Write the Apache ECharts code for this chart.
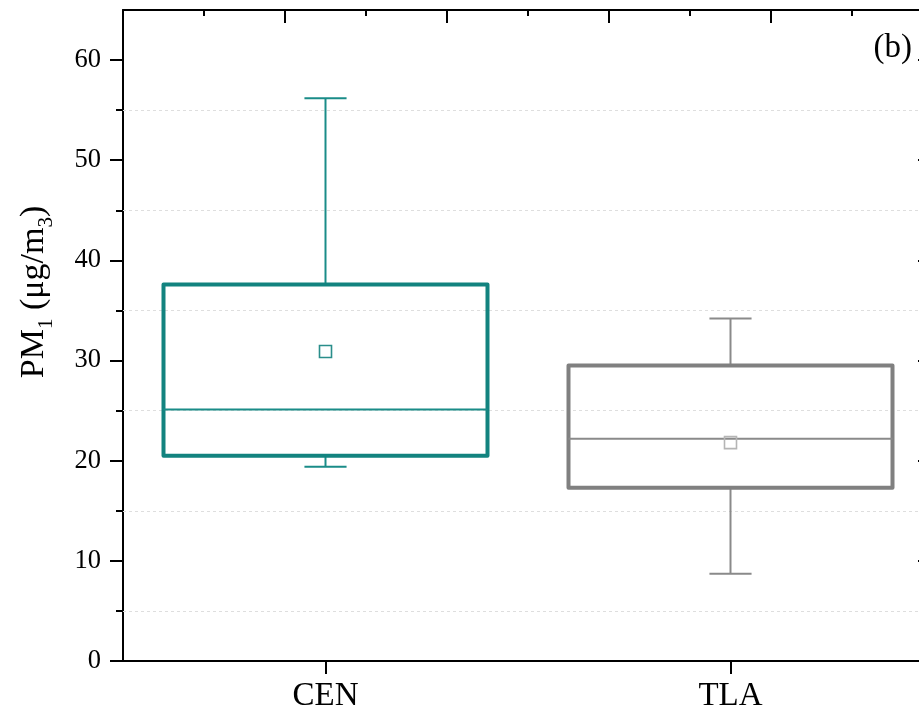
<!DOCTYPE html>
<html>
<head>
<meta charset="utf-8">
<script src="https://cdn.jsdelivr.net/npm/echarts@6/dist/echarts.min.js"></script>
<style>html,body{margin:0;padding:0;background:#fff;}#chart{width:919px;height:712px;}</style>
</head>
<body>
<div id="chart"></div>
<script>
const categories = ['CEN', 'TLA'];
const whiskerLow = [19.4, 8.7];
const q1 = [20.5, 17.3];
const median = [25.1, 22.2];
const q3 = [37.6, 29.5];
const whiskerHigh = [56.2, 34.2];
const mean = [30.9, 21.8];
const yMajorTicks = [0, 10, 20, 30, 40, 50, 60];
const yMinorTicks = [5, 15, 25, 35, 45, 55];
const gridLineValues = [5, 15, 25, 35, 45, 55];

const boxColors = ['#12837f', '#808080'];
const whiskerColors = ['#1a8c88', '#8a8a8a'];
const meanColors = ['#2a8e8b', '#b5b5b5'];
const FONT = 'Liberation Serif';

const chart = echarts.init(document.getElementById('chart'), null, {renderer: 'canvas'});

function renderItem(params, api) {
  const i = api.value(0);
  const band = api.size([1, 0])[0];
  const boxW = band * 0.8;
  const capW = band * 0.104;
  const x = api.coord([i, 0])[0];
  const yLow = api.coord([i, api.value(1)])[1];
  const yQ1 = api.coord([i, api.value(2)])[1];
  const yMed = api.coord([i, api.value(3)])[1];
  const yQ3 = api.coord([i, api.value(4)])[1];
  const yHigh = api.coord([i, api.value(5)])[1];
  const yMean = api.coord([i, api.value(6)])[1];
  const c = boxColors[i];
  const wc = whiskerColors[i];
  const thin = {stroke: wc, lineWidth: 2};
  return {
    type: 'group',
    children: [
      {type: 'line', shape: {x1: x, y1: yQ3, x2: x, y2: yHigh}, style: thin},
      {type: 'line', shape: {x1: x - capW / 2, y1: yHigh, x2: x + capW / 2, y2: yHigh}, style: thin},
      {type: 'line', shape: {x1: x, y1: yQ1, x2: x, y2: yLow}, style: thin},
      {type: 'line', shape: {x1: x - capW / 2, y1: yLow, x2: x + capW / 2, y2: yLow}, style: thin},
      {type: 'rect', shape: {x: x - boxW / 2, y: yQ3, width: boxW, height: yQ1 - yQ3},
        style: {fill: 'none', stroke: c, lineWidth: 4, lineJoin: 'round'}},
      {type: 'line', shape: {x1: x - boxW / 2, y1: yMed, x2: x + boxW / 2, y2: yMed}, style: thin},
      {type: 'rect', shape: {x: x - 6, y: yMean - 6, width: 12, height: 12},
        style: {fill: 'none', stroke: meanColors[i], lineWidth: 1.6}}
    ]
  };
}

const axisLineStyle = {show: true, onZero: false, lineStyle: {color: '#000', width: 2}};

const option = {
  backgroundColor: '#fff',
  animation: false,
  grid: {left: 123, width: 810, top: 10, bottom: 51, containLabel: false, outerBoundsMode: 'none'},
  xAxis: [
    {
      type: 'category', position: 'bottom', data: categories, boundaryGap: true,
      axisLine: axisLineStyle,
      axisTick: {show: true, alignWithLabel: true, length: 13, lineStyle: {color: '#000', width: 2}},
      axisLabel: {fontFamily: FONT, fontSize: 33, color: '#000', margin: 19},
      splitLine: {show: false}
    },
    {
      type: 'value', position: 'top', min: 0, max: 5, interval: 1,
      axisLine: axisLineStyle,
      axisTick: {show: true, inside: true, length: 13, lineStyle: {color: '#000', width: 2}},
      minorTick: {show: true, splitNumber: 2, length: 6, lineStyle: {color: '#000', width: 2}},
      axisLabel: {show: false},
      splitLine: {show: false}
    }
  ],
  yAxis: [
    {
      type: 'value', position: 'left', min: 0, max: 65,
      axisLine: axisLineStyle,
      axisTick: {show: true, customValues: yMajorTicks, length: 13, lineStyle: {color: '#000', width: 2}},
      axisLabel: {customValues: yMajorTicks, fontFamily: FONT, fontSize: 26.5, color: '#000', margin: 22},
      splitLine: {show: false}
    },
    {
      type: 'value', position: 'left', min: 0, max: 65,
      axisLine: {show: false, onZero: false},
      axisTick: {show: true, customValues: yMinorTicks, length: 7, lineStyle: {color: '#000', width: 2}},
      axisLabel: {show: false},
      splitLine: {show: false}
    },
    {
      type: 'value', position: 'right', min: 0, max: 65,
      axisLine: axisLineStyle,
      axisTick: {show: true, inside: true, customValues: yMajorTicks, length: 15, lineStyle: {color: '#000', width: 2}},
      axisLabel: {show: false},
      splitLine: {show: false}
    },
    {
      type: 'value', position: 'right', min: 0, max: 65,
      axisLine: {show: false, onZero: false},
      axisTick: {show: true, inside: true, customValues: yMinorTicks, length: 7, lineStyle: {color: '#000', width: 2}},
      axisLabel: {show: false},
      splitLine: {show: false}
    }
  ],
  graphic: [
    {
      type: 'text', x: 34, y: 292, rotation: Math.PI / 2,
      style: {
        text: 'PM{sub|1} (μg/m{sub|3})',
        fontFamily: FONT, fontSize: 34, fill: '#000', lineHeight: 46,
        align: 'center', verticalAlign: 'middle',
        rich: {
          sub: {fontFamily: FONT, fontSize: 21, verticalAlign: 'bottom', lineHeight: 20, fill: '#000'}
        }
      }
    },
    {
      type: 'text', x: 912, y: 48,
      style: {text: '(b)', fontFamily: FONT, fontSize: 33, fill: '#000', align: 'right', verticalAlign: 'middle'}
    }
  ],
  series: [
    {
      type: 'line', xAxisIndex: 0, yAxisIndex: 0, data: [], silent: true, z: 1,
      markLine: {
        silent: true, symbol: 'none', label: {show: false},
        lineStyle: {color: '#dedede', type: [3, 3], width: 1},
        data: gridLineValues.map(v => ({yAxis: v}))
      }
    },
    {
      type: 'custom', xAxisIndex: 0, yAxisIndex: 0, z: 5,
      renderItem: renderItem,
      encode: {x: 0, y: [1, 2, 3, 4, 5, 6]},
      data: categories.map((c, i) => [i, whiskerLow[i], q1[i], median[i], q3[i], whiskerHigh[i], mean[i]])
    }
  ]
};
chart.setOption(option);
</script>
</body>
</html>
